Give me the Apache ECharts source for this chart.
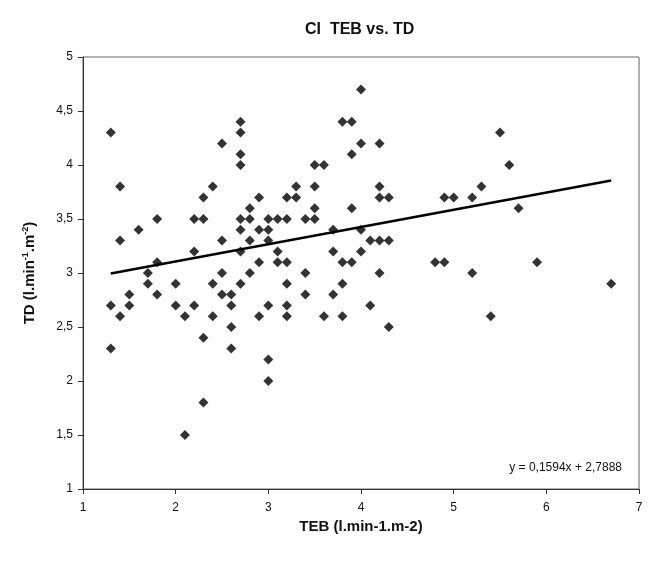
<!DOCTYPE html>
<html>
<head>
<meta charset="utf-8">
<script src="https://cdn.jsdelivr.net/npm/echarts@6/dist/echarts.min.js"></script>
<style>
html,body{margin:0;padding:0;background:#fff;}
#chart{width:652px;height:562px;}
</style>
</head>
<body>
<div id="chart"></div>
<script>
// TEB (x) and TD (y) values
const teb = [
  1.3,1.3,1.3, 1.4,1.4,1.4, 1.5,1.5, 1.6, 1.7,1.7, 1.8,1.8,1.8,
  2.0,2.0, 2.1,2.1, 2.2,2.2,2.2, 2.3,2.3,2.3,2.3, 2.4,2.4,2.4,
  2.5,2.5,2.5,2.5, 2.6,2.6,2.6,2.6, 2.7,2.7,2.7,2.7,2.7,2.7,2.7,2.7,
  2.8,2.8,2.8,2.8, 2.9,2.9,2.9,2.9, 3.0,3.0,3.0,3.0,3.0,3.0,
  3.1,3.1,3.1, 3.2,3.2,3.2,3.2,3.2,3.2, 3.3,3.3, 3.4,3.4,3.4,
  3.5,3.5,3.5,3.5, 3.6,3.6, 3.7,3.7,3.7, 3.8,3.8,3.8,3.8,
  3.9,3.9,3.9,3.9, 4.0,4.0,4.0,4.0, 4.1,4.1, 4.2,4.2,4.2,4.2,4.2,
  4.3,4.3,4.3, 4.8, 4.9,4.9, 5.0, 5.2,5.2, 5.3, 5.4, 5.5, 5.6, 5.7, 5.9, 6.7
];
const td = [
  4.3,2.7,2.3, 3.8,3.3,2.6, 2.8,2.7, 3.4, 3.0,2.9, 3.5,3.1,2.8,
  2.9,2.7, 2.6,1.5, 3.5,3.2,2.7, 3.7,3.5,2.4,1.8, 3.8,2.9,2.6,
  4.2,3.3,3.0,2.8, 2.8,2.7,2.5,2.3, 4.4,4.3,4.1,4.0,3.5,3.4,3.2,2.9,
  3.6,3.5,3.3,3.0, 3.7,3.4,3.1,2.6, 3.5,3.4,3.3,2.7,2.2,2.0,
  3.5,3.2,3.1, 3.7,3.5,3.1,2.9,2.7,2.6, 3.8,3.7, 3.5,3.0,2.8,
  4.0,3.8,3.6,3.5, 4.0,2.6, 3.4,3.2,2.8, 4.4,3.1,2.9,2.6,
  4.4,4.1,3.6,3.1, 4.7,4.2,3.4,3.2, 3.3,2.7, 4.2,3.8,3.7,3.3,3.0,
  3.7,3.3,2.5, 3.1, 3.7,3.1, 3.7, 3.7,3.0, 3.8, 2.6, 4.3, 4.0, 3.6, 3.1, 2.9
];
// Linear trend from the reference equation
const slope = 0.1594;
const intercept = 2.7888;
const equationText = 'y = 0,1594x + 2,7888';
const xTicks = [1,2,3,4,5,6,7];
const yTicks = [1,1.5,2,2.5,3,3.5,4,4.5,5];

const points = teb.map((x, i) => [x, td[i]]);
const xMinData = Math.min(...teb), xMaxData = Math.max(...teb);
const trend = [[xMinData, slope * xMinData + intercept], [xMaxData, slope * xMaxData + intercept]];

const chart = echarts.init(document.getElementById('chart'), null, {renderer: 'canvas'});
const font = '"Liberation Sans", Arial, sans-serif';
chart.setOption({
  animation: false,
  backgroundColor: '#fff',
  title: {
    text: 'CI  TEB vs. TD',
    left: 300,
    top: 17,
    textStyle: {fontFamily: font, fontSize: 16, fontWeight: 'bold', color: '#111'}
  },
  grid: {left: 83, right: 13, top: 57, bottom: 73, show: true, borderColor: '#666', borderWidth: 1},
  xAxis: {
    type: 'value', min: xTicks[0], max: xTicks[xTicks.length - 1], interval: 1,
    name: 'TEB (l.min-1.m-2)', nameLocation: 'middle', nameGap: 27,
    nameTextStyle: {fontFamily: font, fontSize: 15, fontWeight: 'bold', color: '#111'},
    axisLine: {show: true, lineStyle: {color: '#333', width: 1}},
    axisTick: {show: true, length: 5, lineStyle: {color: '#333'}},
    axisLabel: {fontFamily: font, fontSize: 12, color: '#111', margin: 13},
    splitLine: {show: false}
  },
  yAxis: {
    type: 'value', min: yTicks[0], max: yTicks[yTicks.length - 1], interval: 0.5,
    name: 'TD (l.min{sup|-1}.m{sup|-2})', nameLocation: 'middle', nameGap: 45,
    nameTextStyle: {
      fontFamily: font, fontSize: 15, fontWeight: 'bold', color: '#111',
      rich: {sup: {fontFamily: font, fontSize: 9, fontWeight: 'bold', color: '#111', verticalAlign: 'top', padding: [0,0,8,0]}}
    },
    axisLine: {show: true, lineStyle: {color: '#333', width: 1}},
    axisTick: {show: true, length: 5, lineStyle: {color: '#333'}},
    axisLabel: {fontFamily: font, fontSize: 12, color: '#111', margin: 10,
      formatter: v => String(v).replace('.', ',')},
    splitLine: {show: false}
  },
  series: [
    {
      type: 'scatter', data: points, symbol: 'diamond', symbolSize: 10,
      itemStyle: {color: '#000'}, z: 3
    },
    {
      type: 'line', data: trend, symbol: 'none',
      lineStyle: {color: '#000', width: 2.5}, z: 4
    }
  ],
  graphic: [{
    type: 'text', right: 30, top: 462,
    style: {text: equationText, fontFamily: font, fontSize: 12, fill: '#111'}
  }]
});
</script>
</body>
</html>
